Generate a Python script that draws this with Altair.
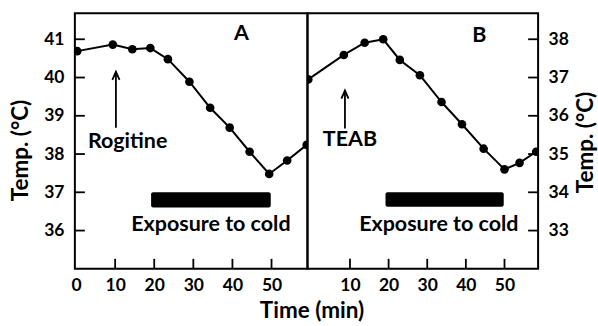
import altair as alt
import pandas as pd

# ---- data ----
time_a = [0.3, 9.4, 14.4, 19.0, 23.5, 29.0, 34.3, 39.3, 44.4, 49.4, 54.0, 59.0]
temp_a = [40.69, 40.86, 40.74, 40.77, 40.48, 39.89, 39.21, 38.69, 38.06, 37.48, 37.83, 38.24]
time_b = [-0.8, 8.4, 13.8, 18.6, 22.9, 28.1, 33.7, 39.0, 44.6, 50.0, 53.9, 58.2]
temp_b = [36.95, 37.59, 37.91, 38.0, 37.46, 37.06, 36.36, 35.78, 35.14, 34.6, 34.77, 35.06]

xticks_a = [0, 10, 20, 30, 40, 50]
xticks_b = [10, 20, 30, 40, 50]
yticks_a = [36, 37, 38, 39, 40, 41]
yticks_b = [33, 34, 35, 36, 37, 38]

cold_start = [19.2, 19.2]
cold_end = [49.8, 49.8]
cold_lo = [36.6, 33.62]
cold_hi = [37.0, 34.0]

drug = ["Rogitine", "TEAB"]
drug_t = [13.2, 10.0]
drug_temp = [38.17, 35.2]
arrow_t = [10.2, 8.7]
arrow_tip = [40.15, 36.66]
arrow_base = [38.69, 35.67]
panel_lbl = ["A", "B"]
panel_lbl_t = [42.3, 43.5]
panel_lbl_temp = [40.98, 37.93]
cold_txt_t = [34.5, 33.0]
cold_txt_temp = [36.0, 33.0]

FONT = "Lato"
W_A, W_B, H = 233, 231, 256
LBL = 17.5
TTL = 22.5


def panel(i, times, temps, xdom, ydom, xticks, yticks, width, side):
    xs = alt.Scale(domain=xdom, nice=False, zero=False)
    ys = alt.Scale(domain=ydom, nice=False, zero=False)
    common = dict(labelFont=FONT, labelFontWeight="bold", labelFontSize=LBL,
                  labelColor="black", titleFont=FONT, titleFontWeight="bold",
                  titleFontSize=TTL, titleColor="black", domain=False, ticks=False,
                  grid=False)
    if side == "left":
        yaxis = alt.Axis(orient="left", values=yticks, title="Temp. (°C)",
                         labelPadding=11, titleAngle=270, titleX=-54, titleY=137,
                         titleAlign="center", titleBaseline="middle", **common)
        xaxis = alt.Axis(values=xticks, labelPadding=8, title="Time (min)",
                         titleX=237, titleY=49, titleAlign="center",
                         titleBaseline="alphabetic", **common)
    else:
        yaxis = alt.Axis(orient="right", values=yticks, title="Temp. (°C)",
                         labelPadding=10, titleAngle=270, titleX=47, titleY=129,
                         titleAlign="center", titleBaseline="middle", **common)
        xaxis = alt.Axis(values=xticks, labelPadding=8, title=None, **common)

    def X(f="t"):
        return alt.X(f + ":Q", scale=xs, axis=xaxis)

    def Y(f="temp"):
        return alt.Y(f + ":Q", scale=ys, axis=yaxis)

    pts = pd.DataFrame({"t": times, "temp": temps})
    base = alt.Chart(pts)
    line = base.mark_line(color="black", strokeWidth=2, clip=True).encode(x=X(), y=Y())
    dots = base.mark_point(filled=True, color="black", size=75, opacity=1, clip=True).encode(
        x=X(), y=Y())

    bar = alt.Chart(pd.DataFrame({"t": [cold_start[i]], "t2": [cold_end[i]],
                                  "temp": [cold_lo[i]], "temp2": [cold_hi[i]]})).mark_rect(
        color="black", cornerRadius=2).encode(x=X(), x2="t2", y=Y(), y2="temp2")

    def txt(t, temp, s):
        return alt.Chart(pd.DataFrame({"t": [t], "temp": [temp], "s": [s]})).mark_text(
            font=FONT, fontWeight="bold", fontSize=21.5, baseline="alphabetic",
            color="black").encode(x=X(), y=Y(), text="s:N")

    cold_txt = txt(cold_txt_t[i], cold_txt_temp[i], "Exposure to cold")
    drug_txt = txt(drug_t[i], drug_temp[i], drug[i])
    lbl = txt(panel_lbl_t[i], panel_lbl_temp[i], panel_lbl[i])

    arr_df = pd.DataFrame({"t": [arrow_t[i]], "temp": [arrow_tip[i]], "temp2": [arrow_base[i]]})
    shaft = alt.Chart(arr_df).mark_rule(color="black", strokeWidth=1.8).encode(
        x=X(), y=Y(), y2="temp2")
    head = alt.Chart(arr_df).mark_point(
        shape="M -0.9 2 L 0 0 L 0.9 2", size=64, filled=False, color="black",
        strokeWidth=1.8, opacity=1).encode(x=X(), y=Y())

    xt = pd.DataFrame({"t": [v for v in xticks if v > 0]})
    xtick_marks = alt.Chart(xt).mark_rule(color="black", strokeWidth=1.8).encode(
        x=X(), y=alt.value(H), y2=alt.value(H - 10))
    yt = pd.DataFrame({"temp": yticks})
    if side == "left":
        ytick_marks = alt.Chart(yt).mark_rule(color="black", strokeWidth=1.8).encode(
            y=Y(), x=alt.value(0), x2=alt.value(10))
    else:
        ytick_marks = alt.Chart(yt).mark_rule(color="black", strokeWidth=1.8).encode(
            y=Y(), x=alt.value(width - 10), x2=alt.value(width))

    return alt.layer(line, dots, bar, cold_txt, drug_txt, lbl, shaft, head,
                     xtick_marks, ytick_marks).properties(width=width, height=H)


pa = panel(0, time_a, temp_a, [-0.3, 59.2], [35.0, 41.68], xticks_a, yticks_a, W_A, "left")
pb = panel(1, time_b, temp_b, [-1.0, 58.7], [32.0, 38.68], xticks_b, yticks_b, W_B, "right")

chart = alt.hconcat(pa, pb, spacing=0, bounds="flush").properties(
    padding={"left": 9, "top": 12, "right": 0, "bottom": 0},
    background="white",
).configure_view(
    stroke="black", strokeWidth=2
)

chart.save("out.html", embed_options={"renderer": "svg", "actions": False})
